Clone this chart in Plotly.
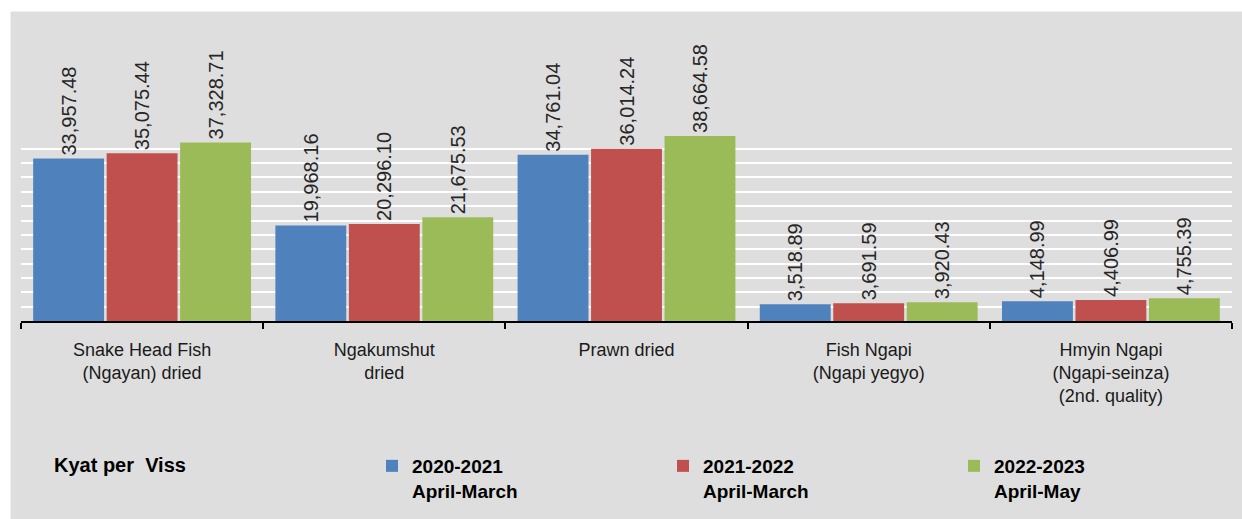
import plotly.graph_objects as go

categories = [
    "Snake Head Fish<br>(Ngayan) dried",
    "Ngakumshut<br>dried",
    "Prawn dried",
    "Fish Ngapi<br>(Ngapi yegyo)",
    "Hmyin Ngapi<br>(Ngapi-seinza)<br>(2nd. quality)",
]
series_names = [
    "2020-2021<br>April-March",
    "2021-2022<br>April-March",
    "2022-2023<br>April-May",
]
v_2020_2021 = [33957.48, 19968.16, 34761.04, 3518.89, 4148.99]
v_2021_2022 = [35075.44, 20296.10, 36014.24, 3691.59, 4406.99]
v_2022_2023 = [37328.71, 21675.53, 38664.58, 3920.43, 4755.39]
colors = ["#4F81BD", "#C0504D", "#9BBB59"]
grid_vals = list(range(0, 36001, 3000))
unit_label = "Kyat per\u00a0 Viss"

FONT = "Liberation Sans, Arial, sans-serif"
BG = "#dedede"

fig = go.Figure()
for name, vals, col in zip(series_names, [v_2020_2021, v_2021_2022, v_2022_2023], colors):
    fig.add_trace(go.Bar(
        x=categories, y=vals, name=name,
        marker=dict(color=col, line=dict(width=0)),
        texttemplate="%{y:,.2f}\u00a0", textposition="outside", textangle=-90,
        constraintext="none", cliponaxis=False,
        textfont=dict(family=FONT, size=20, color="#262626"),
    ))

L, R, T, B = 21, 10, 15, 198
W, H = 1242, 519
pw, ph = W - L - R, H - T - B

def px_x(x):
    return (x - L) / pw

def px_y(y):
    return (ph - (y - T)) / ph

fig.update_layout(
    width=W, height=H,
    margin=dict(l=L, r=R, t=T, b=B, pad=0, autoexpand=False),
    paper_bgcolor=BG,
    plot_bgcolor="rgba(0,0,0,0)",
    barmode="group", bargap=0.09, bargroupgap=0.035,
    font=dict(family=FONT, color="#1a1a1a"),
    showlegend=True,
    legend=dict(
        orientation="h", x=px_x(372), xanchor="left",
        y=px_y(447), yanchor="top",
        entrywidth=246, valign="top",
        font=dict(family=FONT, size=19, color="black", weight="bold"),
        bgcolor="rgba(0,0,0,0)", traceorder="normal",
    ),
    xaxis=dict(
        showline=True, linecolor="black", linewidth=2,
        ticks="outside", tickson="boundaries", ticklen=6, tickwidth=2, tickcolor="black",
        tickfont=dict(family=FONT, size=18, color="#1a1a1a"),
        ticklabelstandoff=11, automargin=False,
        showgrid=False, fixedrange=True,
    ),
    yaxis=dict(
        range=[0, 63950], tickvals=grid_vals, showticklabels=False,
        showgrid=True, gridcolor="white", gridwidth=1.5, automargin=False,
        zeroline=False, ticks="", showline=False, fixedrange=True,
    ),
    shapes=[
        dict(type="rect", xref="paper", yref="paper", layer="below",
             x0=px_x(-5), x1=px_x(W + 5), y0=px_y(11.5), y1=px_y(-5),
             fillcolor="white", line=dict(width=0)),
        dict(type="rect", xref="paper", yref="paper", layer="below",
             x0=px_x(-5), x1=px_x(10.5), y0=px_y(H + 5), y1=px_y(-5),
             fillcolor="white", line=dict(width=0)),
    ],
    annotations=[dict(
        text=unit_label, xref="paper", yref="paper",
        x=px_x(52), xanchor="left", y=px_y(465), yanchor="middle",
        showarrow=False, font=dict(family=FONT, size=20, color="black", weight="bold"),
    )],
)

fig.write_html(
    "out.html",
    config={"displayModeBar": False},
    post_script="document.body.style.margin='0';document.body.style.overflow='hidden';",
)
